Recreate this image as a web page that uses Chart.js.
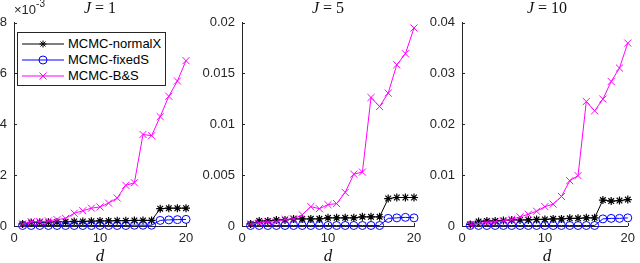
<!DOCTYPE html>
<html>
<head>
<meta charset="utf-8">
<script src="https://cdn.jsdelivr.net/npm/chart.js@4/dist/chart.umd.min.js"></script>
<style>
  html, body { margin:0; padding:0; background:#fff; }
  #wrap { position:relative; width:640px; height:263px; overflow:hidden; font-family:"Liberation Sans", Arial, sans-serif; color:#262626; }
  #wrap canvas { position:absolute; left:0; top:0; }
  .ttl { position:absolute; font-family:"Liberation Serif","DejaVu Serif",serif; font-size:16px; color:#111; white-space:nowrap; transform:translateX(-50%); }
  .xl { position:absolute; font-family:"Liberation Serif","DejaVu Serif",serif; font-style:italic; font-size:17px; color:#111; transform:translateX(-50%); top:246px; }
  #expo { position:absolute; left:14px; top:0px; font-size:13px; color:#262626; white-space:nowrap; }
  #expo sup { font-size:10px; position:relative; top:-2px; }
  #legend { position:absolute; left:17px; top:32px; width:147px; height:52px; border:1px solid #262626; background:#fff; }
  .row { position:absolute; left:0; height:16px; width:147px; }
  .row svg { position:absolute; left:4px; top:0; }
  .row span { position:absolute; left:50px; top:0; font-size:13px; line-height:16px; color:#000; }
</style>
</head>
<body>
<div id="wrap">
  <canvas id="c1" width="640" height="263"></canvas>
  <canvas id="c2" width="640" height="263"></canvas>
  <canvas id="c3" width="640" height="263"></canvas>
  <div id="expo">×10<sup>-3</sup></div>
  <div class="ttl" style="left:100px;top:-1px;"><i>J</i> = 1</div>
  <div class="ttl" style="left:328px;top:-1px;"><i>J</i> = 5</div>
  <div class="ttl" style="left:547px;top:-1px;"><i>J</i> = 10</div>
  <div class="xl" style="left:100px;">d</div>
  <div class="xl" style="left:328px;">d</div>
  <div class="xl" style="left:547px;">d</div>
  <div id="legend">
    <div class="row" style="top:3px;">
      <svg width="44" height="16"><line x1="0" y1="8" x2="42" y2="8" stroke="#000" stroke-width="1"/>
        <g stroke="#000" stroke-width="1"><line x1="21" y1="4.5" x2="21" y2="11.5"/><line x1="17.5" y1="8" x2="24.5" y2="8"/><line x1="18.5" y1="5.5" x2="23.5" y2="10.5"/><line x1="18.5" y1="10.5" x2="23.5" y2="5.5"/></g></svg>
      <span>MCMC-normalX</span>
    </div>
    <div class="row" style="top:19px;">
      <svg width="44" height="16"><line x1="0" y1="8" x2="42" y2="8" stroke="#0000ff" stroke-width="1"/>
        <circle cx="21" cy="8" r="4" fill="none" stroke="#0000ff" stroke-width="1"/></svg>
      <span>MCMC-fixedS</span>
    </div>
    <div class="row" style="top:35px;">
      <svg width="44" height="16"><line x1="0" y1="8" x2="42" y2="8" stroke="#ff00ff" stroke-width="1"/>
        <g stroke="#ff00ff" stroke-width="1"><line x1="17.5" y1="4.5" x2="24.5" y2="11.5"/><line x1="17.5" y1="11.5" x2="24.5" y2="4.5"/></g></svg>
      <span>MCMC-B&amp;S</span>
    </div>
  </div>
</div>
<script>
// ---- data ----
const dValues = [1,2,3,4,5,6,7,8,9,10,11,12,13,14,15,16,17,18,19,20];
const xTicks = [0, 10, 20];

// J = 1
const normalX_J1 = [0.08e-3,0.14e-3,0.15e-3,0.15e-3,0.16e-3,0.17e-3,0.18e-3,0.18e-3,0.19e-3,0.20e-3,0.20e-3,0.21e-3,0.21e-3,0.22e-3,0.22e-3,0.22e-3,0.68e-3,0.70e-3,0.70e-3,0.70e-3];
const fixedS_J1  = [0.02e-3,0.02e-3,0.02e-3,0.02e-3,0.02e-3,0.02e-3,0.02e-3,0.02e-3,0.02e-3,0.02e-3,0.02e-3,0.02e-3,0.02e-3,0.03e-3,0.03e-3,0.03e-3,0.22e-3,0.24e-3,0.25e-3,0.26e-3];
const BS_J1      = [0.08e-3,0.17e-3,0.17e-3,0.20e-3,0.25e-3,0.30e-3,0.50e-3,0.60e-3,0.70e-3,0.75e-3,0.90e-3,1.10e-3,1.60e-3,1.70e-3,3.60e-3,3.55e-3,4.30e-3,5.10e-3,5.70e-3,6.50e-3];
const yTicks_J1 = [0, 0.002, 0.004, 0.006, 0.008];

// J = 5
const normalX_J5 = [0.0002,0.0005,0.0005,0.0006,0.0006,0.0007,0.0007,0.0007,0.0007,0.0008,0.0008,0.0008,0.0008,0.0009,0.0009,0.0009,0.0027,0.0028,0.0028,0.0028];
const fixedS_J5  = [0.00005,0.00005,0.00005,0.00005,0.00005,0.00005,0.00005,0.00005,0.00005,0.00005,0.00005,0.00005,0.00005,0.00005,0.00005,0.00005,0.00075,0.0008,0.00085,0.0008];
const BS_J5      = [0.0002,0.0003,0.0004,0.0004,0.00065,0.0007,0.0011,0.0019,0.0017,0.0021,0.0022,0.0033,0.0051,0.0053,0.01263,0.01174,0.01306,0.01585,0.01693,0.01946];
const yTicks_J5 = [0, 0.005, 0.01, 0.015, 0.02];

// J = 10
const normalX_J10 = [0.0003,0.0009,0.001,0.001,0.0011,0.0012,0.0012,0.0012,0.0013,0.0013,0.0014,0.0014,0.0015,0.0015,0.0016,0.0016,0.0051,0.0049,0.005,0.0052];
const fixedS_J10  = [0.0001,0.0001,0.0001,0.0001,0.0001,0.0001,0.0001,0.0001,0.0001,0.0001,0.0001,0.0001,0.0001,0.0001,0.0001,0.0001,0.0014,0.0015,0.0015,0.0016];
const BS_J10      = [0.0003,0.0005,0.0007,0.0008,0.001,0.0013,0.0018,0.0023,0.0029,0.0038,0.0043,0.0058,0.0089,0.0099,0.02447,0.02264,0.02494,0.0284,0.03104,0.03596];
const yTicks_J10 = [0, 0.01, 0.02, 0.03, 0.04];

const seriesNames = ['MCMC-normalX', 'MCMC-fixedS', 'MCMC-B&S'];
const AXIS = '#262626';

// inward tick marks (MATLAB style)
const inwardTicks = {
  id: 'inwardTicks',
  afterDraw(chart) {
    const ctx = chart.ctx, a = chart.chartArea;
    ctx.save();
    ctx.strokeStyle = AXIS; ctx.lineWidth = 1;
    const xs = chart.scales.x, ys = chart.scales.y;
    ctx.beginPath();
    xs.ticks.forEach(t => { const p = Math.round(xs.getPixelForValue(t.value)) + 0.5; ctx.moveTo(p, a.bottom); ctx.lineTo(p, a.bottom - 3); });
    ys.ticks.forEach(t => { const p = Math.round(ys.getPixelForValue(t.value)) + 0.5; ctx.moveTo(a.left, p); ctx.lineTo(a.left + 3, p); });
    ctx.stroke();
    ctx.restore();
  }
};

function makeChart(id, nx, fs, bs, yTickVals, fmt, left, right) {
  const yw = Math.min(40, left);
  const pts = arr => arr.map((v, i) => ({ x: dValues[i], y: v }));
  return new Chart(document.getElementById(id), {
    type: 'line',
    data: {
      datasets: [
        { label: seriesNames[0], data: pts(nx), borderColor: '#000', backgroundColor: '#000', borderWidth: 1,
          pointStyle: 'star', pointRadius: 4, pointBorderWidth: 1.2, pointBorderColor: '#000', order: 3, clip: false },
        { label: seriesNames[1], data: pts(fs), borderColor: '#0000ff', backgroundColor: 'rgba(0,0,0,0)', borderWidth: 1,
          pointStyle: 'circle', pointRadius: 4, pointBorderWidth: 1, pointBorderColor: '#0000ff', pointBackgroundColor: 'rgba(0,0,0,0)', order: 2, clip: false },
        { label: seriesNames[2], data: pts(bs), borderColor: '#ff00ff', backgroundColor: '#ff00ff', borderWidth: 1,
          pointStyle: 'crossRot', pointRadius: 5, pointBorderWidth: 1, pointBorderColor: '#ff00ff', order: 1, clip: false }
      ]
    },
    options: {
      responsive: false, animation: false, devicePixelRatio: 1,
      layout: { padding: { left: left - yw, right: 640 - right, top: 22.5, bottom: 0 } },
      plugins: { legend: { display: false }, tooltip: { enabled: false }, title: { display: false } },
      elements: { line: { tension: 0 } },
      scales: {
        x: {
          type: 'linear', min: 0, max: 20,
          afterFit: s => { s.height = 37; },
          afterBuildTicks: s => { s.ticks = xTicks.map(v => ({ value: v })); },
          grid: { display: false, drawTicks: false },
          border: { display: true, color: AXIS, width: 1 },
          ticks: { padding: 5, color: AXIS, font: { family: 'Liberation Sans', size: 13 }, maxRotation: 0 }
        },
        y: {
          type: 'linear', min: yTickVals[0], max: yTickVals[yTickVals.length - 1],
          afterFit: s => { s.width = yw; },
          afterBuildTicks: s => { s.ticks = yTickVals.map(v => ({ value: v })); },
          grid: { display: false, drawTicks: false },
          border: { display: true, color: AXIS, width: 1 },
          ticks: { padding: 7, color: AXIS, font: { family: 'Liberation Sans', size: 13 }, callback: fmt }
        }
      }
    },
    plugins: [inwardTicks]
  });
}

makeChart('c1', normalX_J1, fixedS_J1, BS_J1, yTicks_J1, v => String(Math.round(v * 1000)), 14, 186);
makeChart('c2', normalX_J5, fixedS_J5, BS_J5, yTicks_J5, v => String(+(+v).toFixed(4)), 242, 414);
makeChart('c3', normalX_J10, fixedS_J10, BS_J10, yTicks_J10, v => String(+(+v).toFixed(4)), 462, 633);
</script>
</body>
</html>
